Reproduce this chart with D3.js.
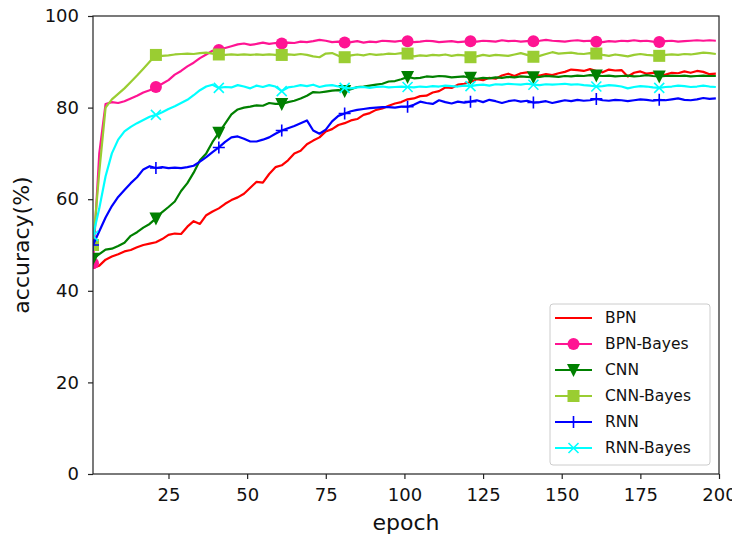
<!DOCTYPE html>
<html><head><meta charset="utf-8">
<script src="https://cdn.jsdelivr.net/npm/d3@7"></script>
<style>body{margin:0;background:#fff}svg{display:block}text{font-family:"DejaVu Sans",sans-serif;fill:#111}</style>
</head><body><div id="chart"></div>
<script>
// epochs sampled every 2 (1,3,...,199)
const epochs = d3.range(1, 200, 2);
const xTicks = [25, 50, 75, 100, 125, 150, 175, 200];
const yTicks = [0, 20, 40, 60, 80, 100];
const seriesNames = ["BPN", "BPN-Bayes", "CNN", "CNN-Bayes", "RNN", "RNN-Bayes"];

const bpn = [
45.0,45.5,46.8,47.5,48.0,48.6,48.9,49.5,50.0,50.3,
50.6,51.3,52.2,52.5,52.4,54.0,55.2,54.6,56.5,57.3,
58.0,59.0,59.8,60.4,61.2,62.5,63.8,63.6,65.5,67.0,
67.4,68.5,70.0,70.6,72.0,72.8,73.5,74.8,75.3,76.2,
76.6,77.2,77.5,78.4,78.8,79.5,79.8,80.4,80.9,81.2,
81.8,82.0,82.5,82.6,83.3,83.6,84.4,84.3,85.0,85.2,
85.6,86.2,86.0,86.5,86.3,87.0,87.4,86.9,87.5,87.7,
87.2,87.0,87.3,87.1,87.5,87.8,88.3,88.2,88.0,88.4,
88.0,87.7,88.3,88.1,88.2,86.8,87.6,87.9,87.4,87.6,
87.1,87.2,87.6,87.5,87.9,87.6,88.0,87.8,87.3,87.4];
const bpnBayes = [
46.0,70.0,80.8,81.2,81.0,81.4,82.0,82.6,83.3,83.8,
84.5,85.2,86.0,87.2,88.0,89.0,89.8,90.8,91.6,92.4,
92.6,93.0,93.4,93.8,94.0,93.7,93.9,94.2,93.9,94.1,
94.0,94.2,94.1,94.4,94.3,94.5,94.8,94.6,94.3,94.4,
94.2,94.3,94.5,94.2,94.4,94.3,94.6,94.5,94.4,94.6,
94.5,94.3,94.4,94.6,94.5,94.3,94.4,94.5,94.3,94.4,
94.5,94.4,94.6,94.5,94.4,94.7,94.5,94.6,94.4,94.5,
94.5,94.6,94.8,94.6,94.5,94.4,94.6,94.7,94.5,94.6,
94.4,94.3,94.5,94.4,94.6,94.5,94.7,94.5,94.6,94.4,
94.3,94.5,94.6,94.4,94.5,94.6,94.7,94.6,94.7,94.6];
const cnn = [
47.0,48.0,49.0,49.2,49.8,50.5,52.0,52.8,53.8,54.6,
55.8,57.2,58.3,59.5,61.8,63.5,65.8,68.5,70.0,72.5,
74.5,76.5,78.5,79.6,80.0,80.2,80.5,80.4,81.0,80.8,
80.8,81.2,81.5,82.0,82.6,83.4,83.3,83.5,83.7,83.8,
83.6,84.0,84.5,84.6,84.8,85.0,85.2,85.7,85.8,86.2,
86.7,86.4,86.5,86.8,86.7,86.9,86.8,86.6,86.7,86.8,
86.5,86.3,86.5,86.4,86.6,86.5,86.7,86.6,86.8,86.7,
86.6,86.7,86.9,86.8,86.7,86.9,86.8,87.0,86.9,87.1,
87.0,86.9,87.0,86.8,86.9,87.0,86.8,86.9,87.1,86.9,
86.8,86.9,87.0,86.9,87.0,86.8,86.9,87.0,86.9,86.9];
const cnnBayes = [
50.0,66.0,80.0,81.8,83.0,84.2,85.6,87.0,88.5,90.0,
91.5,91.3,91.4,91.6,91.7,91.8,91.7,91.9,92.0,91.8,
91.6,91.5,91.6,91.5,91.6,91.5,91.6,91.5,91.6,91.5,
91.5,91.6,91.5,91.7,91.5,91.2,91.0,91.8,91.9,91.3,
91.0,91.4,91.6,91.4,91.7,91.5,91.6,91.8,91.7,91.9,
91.8,91.2,91.4,91.3,91.5,91.4,91.6,91.3,91.5,91.4,
91.0,91.2,91.5,91.3,91.5,91.4,91.3,91.6,91.9,91.5,
91.1,91.3,91.7,92.1,91.8,91.9,92.0,91.8,91.7,91.9,
91.8,91.5,91.3,91.6,91.4,91.2,91.5,91.7,91.5,91.4,
91.3,91.5,91.6,91.5,91.7,91.6,91.8,92.0,91.9,91.7];
const rnn = [
50.0,53.0,56.0,58.5,60.5,62.0,63.5,64.8,66.5,67.2,
66.8,67.0,66.8,66.9,66.8,67.0,67.3,68.2,69.2,70.3,
71.3,72.5,73.5,73.7,73.2,72.6,72.6,73.0,73.5,74.3,
75.0,75.5,76.0,76.6,77.2,75.0,74.3,75.2,77.0,78.2,
78.7,79.2,79.5,79.7,79.9,80.0,80.1,80.1,80.0,80.2,
80.2,80.6,81.3,81.0,80.8,81.6,81.2,80.9,81.3,81.1,
81.3,81.6,81.2,81.7,81.4,81.0,81.4,81.6,81.3,81.5,
81.1,81.2,81.4,81.0,81.3,81.6,81.4,81.7,81.5,81.6,
81.9,81.6,81.5,81.7,81.6,81.4,81.6,81.8,81.7,81.5,
81.7,81.6,81.8,82.0,81.7,81.6,81.8,82.1,81.9,82.0];
const rnnBayes = [
52.0,58.0,65.0,70.0,73.0,74.8,75.8,76.6,77.3,78.0,
78.4,79.0,79.7,80.3,81.0,81.7,82.7,83.8,84.6,85.0,
84.3,84.5,84.4,84.9,84.6,84.2,84.8,84.5,84.9,84.6,
83.6,84.4,84.6,84.9,84.7,85.0,84.5,84.8,84.9,84.6,
84.3,84.2,84.4,84.5,84.3,84.5,84.6,84.4,84.5,84.6,
84.5,84.4,84.6,84.5,84.7,84.6,84.8,84.7,84.6,84.8,
84.7,84.9,85.0,84.8,85.1,85.0,85.2,85.1,85.0,85.2,
85.0,84.9,85.1,85.0,85.1,85.2,85.0,85.1,84.9,84.8,
84.6,84.7,84.9,84.8,84.6,84.2,84.5,84.7,84.6,84.4,
84.3,84.5,84.6,84.8,84.7,84.5,84.6,84.8,84.6,84.5];

const seriesValues = [bpn, bpnBayes, cnn, cnnBayes, rnn, rnnBayes];
const colors = ["#ff0000", "#ff1493", "#008000", "#9acd32", "#0000ff", "#00ffff"];
const markers = [null, "circle", "tridown", "square", "plus", "x"];
const markEvery = 10;

const W = 732, H = 538;
const m = {left: 93, right: 13, top: 16, bottom: 64};
const iw = W - m.left - m.right, ih = H - m.top - m.bottom;

const svg = d3.select("#chart").append("svg").attr("width", W).attr("height", H);
const x = d3.scaleLinear().domain([1, 200]).range([m.left, m.left + iw]);
const y = d3.scaleLinear().domain([0, 100]).range([m.top + ih, m.top]);

svg.append("defs").append("clipPath").attr("id", "clip")
  .append("rect").attr("x", m.left).attr("y", m.top).attr("width", iw).attr("height", ih);

function drawMarker(g, type, cx, cy, color) {
  if (type === "circle") {
    g.append("circle").attr("cx", cx).attr("cy", cy).attr("r", 6).attr("fill", color);
  } else if (type === "square") {
    g.append("rect").attr("x", cx - 6).attr("y", cy - 6).attr("width", 12).attr("height", 12).attr("fill", color);
  } else if (type === "tridown") {
    g.append("path").attr("d", `M${cx-6.5},${cy-6}L${cx+6.5},${cy-6}L${cx},${cy+7}Z`).attr("fill", color);
  } else if (type === "plus") {
    g.append("path").attr("d", `M${cx-6},${cy}L${cx+6},${cy}M${cx},${cy-6}L${cx},${cy+6}`)
      .attr("stroke", color).attr("stroke-width", 1.6).attr("fill", "none");
  } else if (type === "x") {
    g.append("path").attr("d", `M${cx-5},${cy-5}L${cx+5},${cy+5}M${cx-5},${cy+5}L${cx+5},${cy-5}`)
      .attr("stroke", color).attr("stroke-width", 1.6).attr("fill", "none");
  }
}

const plot = svg.append("g").attr("clip-path", "url(#clip)");
const line = d3.line().x((d, i) => x(epochs[i])).y(d => y(d));
seriesValues.forEach((vals, s) => {
  const g = plot.append("g");
  g.append("path").datum(vals).attr("d", line).attr("fill", "none")
    .attr("stroke", colors[s]).attr("stroke-width", 2.2).attr("stroke-linejoin", "round");
  if (markers[s]) {
    vals.forEach((v, i) => { if (i % markEvery === 0) drawMarker(g, markers[s], x(epochs[i]), y(v), colors[s]); });
  }
});

// frame
svg.append("rect").attr("x", m.left).attr("y", m.top).attr("width", iw).attr("height", ih)
  .attr("fill", "none").attr("stroke", "#222").attr("stroke-width", 1.2);

// axes
const xAxis = svg.append("g").attr("transform", `translate(0,${m.top + ih})`)
  .call(d3.axisBottom(x).tickValues(xTicks).tickSize(5).tickPadding(9));
const yAxis = svg.append("g").attr("transform", `translate(${m.left},0)`)
  .call(d3.axisLeft(y).tickValues(yTicks).tickSize(5).tickPadding(9));
[xAxis, yAxis].forEach(a => {
  a.select(".domain").remove();
  a.selectAll(".tick line").attr("stroke", "#222").attr("stroke-width", 1.2);
  a.selectAll(".tick text").attr("font-size", 18).attr("font-family", "DejaVu Sans").attr("fill", "#111");
});

svg.append("text").attr("x", m.left + iw / 2).attr("y", 530).attr("text-anchor", "middle")
  .attr("font-size", 22).text("epoch");
svg.append("text").attr("transform", `translate(29,${m.top + ih / 2}) rotate(-90)`)
  .attr("text-anchor", "middle").attr("font-size", 22).text("accuracy(%)");

// legend
const lg = svg.append("g");
lg.append("rect").attr("x", 550).attr("y", 304).attr("width", 160).attr("height", 161)
  .attr("rx", 3).attr("fill", "#fff").attr("fill-opacity", 0.8).attr("stroke", "#ccc");
seriesNames.forEach((name, s) => {
  const ly = 318 + s * 26;
  lg.append("line").attr("x1", 555).attr("x2", 592).attr("y1", ly).attr("y2", ly)
    .attr("stroke", colors[s]).attr("stroke-width", 2);
  if (markers[s]) drawMarker(lg, markers[s], 573.5, ly, colors[s]);
  lg.append("text").attr("x", 605).attr("y", ly).attr("dy", "0.35em")
    .attr("font-size", 15.5).text(name);
});
</script></body></html>
